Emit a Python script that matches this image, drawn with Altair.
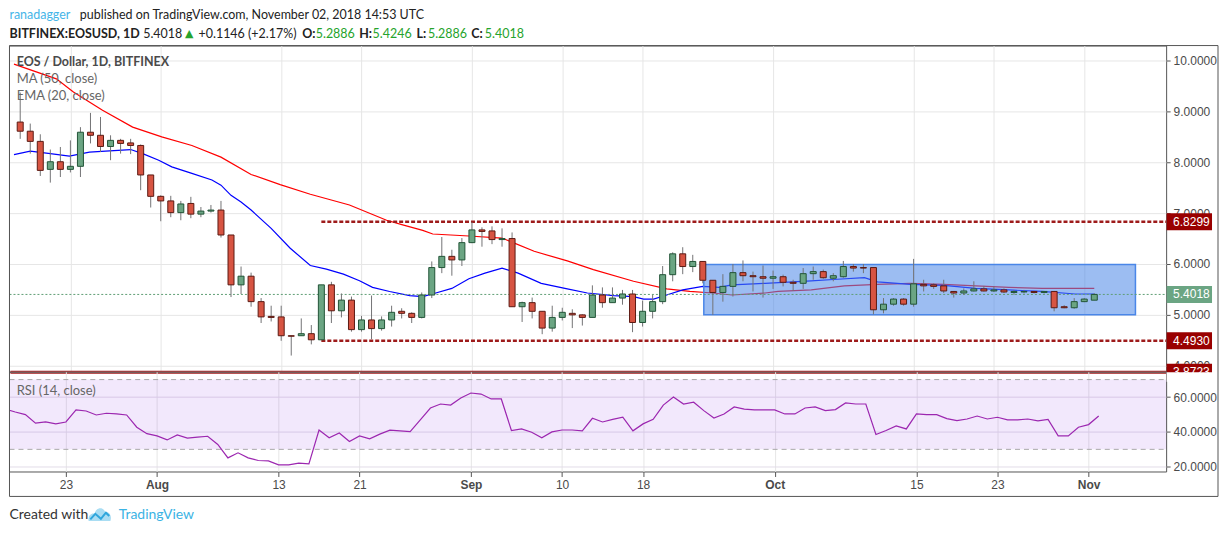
import altair as alt
import pandas as pd

# ---------------- data ----------------
start = "2018-07-18"
opens = [8.79, 8.61, 8.41, 7.86, 8.01, 7.86, 7.92, 8.59, 8.53, 8.31,
         8.43, 8.38, 8.33, 7.75, 7.33, 7.24, 7.01, 7.19, 6.98, 7.04,
         7.06, 6.57, 5.59, 5.76, 5.26, 4.97, 4.96, 4.59, 4.59, 4.63,
         4.51, 5.59, 5.08, 5.29, 4.71, 4.90, 4.73, 4.90, 5.07, 5.03,
         4.95, 5.39, 5.93, 6.15, 6.08, 6.42, 6.67, 6.65, 6.48, 6.50,
         5.16, 5.24, 5.07, 4.74, 4.95, 5.03, 5.00, 4.95, 5.39, 5.24,
         5.33, 5.41, 4.85, 5.07, 5.26, 5.79, 6.20, 5.95, 6.05, 5.68,
         5.44, 5.56, 5.83, 5.77, 5.75, 5.72, 5.75, 5.64, 5.62, 5.81,
         5.85, 5.72, 5.75, 5.95, 5.93, 5.93, 5.10, 5.21, 5.31, 5.21,
         5.60, 5.59, 5.57, 5.46, 5.43, 5.47, 5.51, 5.47, 5.49, 5.44,
         5.45, 5.46, 5.44, 5.46, 5.16, 5.14, 5.26, 5.2886]
highs = [9.37, 8.76, 8.55, 8.25, 8.30, 8.43, 8.69, 8.97, 8.89, 8.53,
         8.46, 8.46, 8.35, 7.75, 7.35, 7.34, 7.24, 7.32, 7.12, 7.16,
         7.24, 6.57, 5.95, 5.83, 5.33, 5.18, 5.18, 4.59, 4.93, 4.80,
         5.59, 5.65, 5.42, 5.36, 4.98, 5.38, 4.97, 5.18, 5.13, 5.05,
         5.44, 6.05, 6.53, 6.28, 6.51, 6.83, 6.72, 6.74, 6.70, 6.62,
         5.26, 5.34, 5.07, 5.18, 5.14, 5.11, 5.01, 5.58, 5.54, 5.54,
         5.49, 5.49, 5.28, 5.39, 5.96, 6.23, 6.33, 6.18, 6.05, 5.68,
         5.80, 6.00, 6.07, 5.85, 5.97, 5.87, 5.79, 5.69, 5.92, 5.95,
         5.89, 5.82, 6.06, 6.00, 6.00, 5.93, 5.33, 5.33, 5.33, 6.10,
         5.69, 5.62, 5.69, 5.47, 5.52, 5.66, 5.57, 5.56, 5.52, 5.49,
         5.49, 5.47, 5.47, 5.47, 5.19, 5.33, 5.33, 5.4246]
lows = [8.46, 8.17, 7.73, 7.60, 7.71, 7.80, 7.71, 8.37, 8.20, 8.04,
        8.17, 8.16, 7.45, 7.11, 6.84, 6.92, 6.86, 6.90, 6.92, 7.01,
        6.52, 5.35, 5.41, 5.16, 4.84, 4.87, 4.49, 4.20, 4.59, 4.42,
        4.51, 4.84, 4.95, 4.67, 4.67, 4.52, 4.69, 4.77, 4.93, 4.84,
        4.93, 5.33, 5.82, 5.77, 5.96, 6.41, 6.34, 6.39, 6.34, 5.16,
        4.86, 4.93, 4.62, 4.67, 4.89, 4.74, 4.79, 4.95, 5.14, 5.24,
        5.20, 4.66, 4.77, 4.93, 5.21, 5.66, 5.80, 5.84, 5.62, 5.00,
        5.26, 5.36, 5.66, 5.46, 5.34, 5.51, 5.56, 5.47, 5.51, 5.69,
        5.71, 5.66, 5.73, 5.85, 5.82, 5.01, 5.03, 5.18, 5.18, 5.16,
        5.46, 5.51, 5.43, 5.34, 5.39, 5.46, 5.46, 5.45, 5.43, 5.39,
        5.42, 5.42, 5.42, 5.07, 5.13, 5.12, 5.25, 5.2886]
closes = [8.61, 8.41, 7.84, 8.01, 7.86, 7.92, 8.59, 8.53, 8.31, 8.43,
          8.37, 8.33, 7.75, 7.33, 7.24, 7.01, 7.18, 6.98, 7.04, 7.06,
          6.57, 5.59, 5.76, 5.26, 4.96, 4.95, 4.59, 4.58, 4.63, 4.51,
          5.59, 5.08, 5.29, 4.71, 4.90, 4.73, 4.90, 5.05, 5.03, 4.95,
          5.39, 5.93, 6.15, 6.08, 6.42, 6.67, 6.64, 6.48, 6.50, 5.16,
          5.24, 5.07, 4.74, 4.95, 5.05, 5.00, 4.95, 5.39, 5.24, 5.33,
          5.41, 4.85, 5.07, 5.26, 5.79, 6.20, 5.95, 6.05, 5.68, 5.44,
          5.56, 5.83, 5.77, 5.75, 5.72, 5.75, 5.64, 5.62, 5.81, 5.85,
          5.73, 5.77, 5.95, 5.92, 5.92, 5.10, 5.21, 5.31, 5.21, 5.61,
          5.57, 5.56, 5.47, 5.43, 5.47, 5.51, 5.47, 5.49, 5.45, 5.46,
          5.46, 5.44, 5.46, 5.14, 5.14, 5.26, 5.31, 5.4018]

# RSI (14, close), first value is 2018-07-17 (just left of the view)
rsi_start = "2018-07-17"
rsi_vals = [53.2,
            51.4, 49.9, 45.0, 45.7, 44.6, 45.7, 52.6, 52.0, 49.7, 50.7,
            50.3, 49.7, 42.7, 39.0, 37.7, 35.4, 38.3, 36.4, 37.0, 37.5,
            32.8, 25.1, 28.0, 25.1, 23.6, 23.4, 21.1, 21.1, 22.1, 21.7,
            41.1, 36.6, 39.4, 34.5, 37.7, 36.0, 38.7, 41.0, 40.6, 40.2,
            46.9, 53.7, 56.0, 55.4, 59.4, 62.3, 61.7, 58.9, 58.9, 40.8,
            41.7, 39.8, 36.6, 40.0, 41.1, 41.1, 40.6, 47.8, 45.7, 47.2,
            48.4, 40.6, 44.6, 47.2, 55.4, 60.0, 56.0, 57.0, 52.2, 48.0,
            50.3, 54.3, 53.1, 52.6, 52.6, 52.6, 50.3, 50.3, 53.7, 54.3,
            52.2, 52.8, 56.6, 56.0, 56.0, 38.5, 40.8, 43.4, 41.7, 50.3,
            49.9, 49.9, 47.6, 46.5, 47.4, 49.1, 47.4, 48.4, 46.9, 46.9,
            47.4, 46.3, 47.2, 37.7, 37.7, 42.7, 44.2, 49.1]

# moving-average line vertices (days after start, price)
ma50_day = [-0.62, 3.6, 5.3, 8.2, 11.2, 14.1, 17.1, 20.0, 23.0, 25.9,
            28.9, 32.8, 36.5, 38.1, 40.1, 41.1, 44.7, 48.0, 51.2, 54.5,
            57.1, 61.1, 64.4, 66.7, 69.0, 70.9, 74.2, 75.5, 78.8, 82.1,
            85.4, 88.7, 92.0, 95.2, 98.5, 101.8, 107.0]
ma50_val = [9.93, 9.64, 9.38, 9.02, 8.69, 8.50, 8.33, 8.10, 7.76, 7.56,
            7.37, 7.16, 6.86, 6.77, 6.66, 6.59, 6.55, 6.51, 6.25, 6.06,
            5.89, 5.66, 5.51, 5.46, 5.43, 5.39, 5.43, 5.46, 5.49, 5.57,
            5.60, 5.62, 5.60, 5.57, 5.54, 5.52, 5.52]
ema20_day = [-0.62, 1.0, 3.0, 4.9, 6.9, 8.5, 11.0, 12.2, 13.8, 15.1,
             17.1, 19.1, 20.0, 21.0, 22.0, 23.0, 25.0, 26.9, 28.9, 30.5,
             32.2, 33.8, 35.1, 36.8, 38.8, 40.1, 41.4, 43.0, 44.7, 46.3,
             48.0, 49.6, 51.9, 54.5, 56.5, 59.1, 61.1, 62.1, 63.1, 64.4,
             66.0, 68.0, 69.6, 70.9, 74.2, 78.8, 81.4, 84.1, 85.4, 88.7,
             92.0, 95.2, 98.5, 101.8, 105.1, 107.0]
ema20_val = [8.15, 8.22, 8.17, 8.12, 8.20, 8.22, 8.25, 8.17, 8.04, 7.91,
             7.78, 7.65, 7.55, 7.35, 7.22, 7.06, 6.70, 6.31, 5.97, 5.90,
             5.80, 5.67, 5.54, 5.46, 5.38, 5.36, 5.43, 5.52, 5.71, 5.82,
             5.92, 5.82, 5.62, 5.51, 5.43, 5.38, 5.36, 5.31, 5.31, 5.39,
             5.49, 5.56, 5.54, 5.59, 5.62, 5.67, 5.70, 5.73, 5.65, 5.60,
             5.58, 5.52, 5.49, 5.46, 5.41, 5.41]

# drawings
range_box_days = [68.1, 111.1]
range_box_prices = [5.0, 5.99]
hlines_prices = [6.8299, 4.4930]
hlines_start_day = 30
base_price = 3.8723
last_price = 5.4018
price_labels = [6.8299, 5.4018, 4.4930, 3.8723]

price_ticks = [4, 5, 6, 7, 8, 9, 10]
rsi_ticks = [20, 40, 60]
rsi_band = [70, 30]
tick_dates = ["2018-07-23", "2018-08-01", "2018-08-13", "2018-08-21", "2018-09-01",
              "2018-09-10", "2018-09-18", "2018-10-01", "2018-10-15", "2018-10-23",
              "2018-11-01"]
tick_labels = ["23", "Aug", "13", "21", "Sep", "10", "18", "Oct", "15", "23", "Nov"]
month_labels = ["Aug", "Sep", "Oct", "Nov"]

# ---------------- frames ----------------
t0 = pd.Timestamp(start)
n = len(opens)
dates = pd.date_range(start, periods=n, freq="D")
cdf = pd.DataFrame({"day": [(d - t0).days for d in dates], "open": opens,
                    "high": highs, "low": lows, "close": closes})
rdates = pd.date_range(rsi_start, periods=len(rsi_vals), freq="D")
rdf = pd.DataFrame({"day": [(d - t0).days for d in rdates], "rsi": rsi_vals})
ma_df = pd.DataFrame({"day": ma50_day, "val": ma50_val})
ema_df = pd.DataFrame({"day": ema20_day, "val": ema20_val})
box_df = pd.DataFrame({"x0": [range_box_days[0]], "x1": [range_box_days[1]],
                       "y0": [range_box_prices[0]], "y1": [range_box_prices[1]]})
hl_df = pd.DataFrame({"lvl": hlines_prices, "start": [hlines_start_day] * len(hlines_prices)})
base_df = pd.DataFrame({"lvl": [base_price]})
last_df = pd.DataFrame({"lvl": [last_price]})
lbl_df = pd.DataFrame({"lvl": price_labels})
band_df = pd.DataFrame({"hi": [rsi_band[0]], "lo": [rsi_band[1]]})
bandline_df = pd.DataFrame({"lvl": rsi_band})
tick_days = [(pd.Timestamp(d) - t0).days for d in tick_dates]

# ---------------- styling ----------------
W, H1, H2 = 1160, 327, 100
GRID = "#E6E6E6"
AXC = "#555555"
LBL = "#4A4A4A"
UP, DOWN = "#6BA583", "#D75442"
UPB, DOWNB = "#225437", "#5B1A13"
FONT = "Liberation Sans"
TFONT = "Lato"

xs = alt.Scale(domain=[-0.62, 113.66], nice=False, zero=False)
ys = alt.Scale(domain=[3.882, 10.294], nice=False, zero=False)
yrs = alt.Scale(domain=[17.3, 74.5], nice=False, zero=False)

x_price_axis = alt.Axis(values=tick_days, labels=False, ticks=False, domain=False,
                        grid=True, gridColor=GRID, title=None)
y_price_axis = alt.Axis(orient="right", values=price_ticks, format=".4f", labelColor=LBL,
                        labelFontSize=12, labelFont=FONT, tickSize=4, tickColor=AXC,
                        labelPadding=3, domain=False, grid=True, gridColor=GRID, title=None)

label_expr = " : ".join(f"datum.value == {d} ? '{l}'" for d, l in zip(tick_days, tick_labels)) + " : ''"
month_days = [d for d, l in zip(tick_days, tick_labels) if l in month_labels]
bold_test = "indexof([" + ",".join(str(d) for d in month_days) + "], datum.value) >= 0"
x_rsi_axis = alt.Axis(values=tick_days, labelExpr=label_expr,
                      labelFontWeight={"condition": {"test": bold_test, "value": "bold"}, "value": "normal"},
                      labelColor=LBL, labelFontSize=12, labelFont=FONT, tickSize=5, tickColor=AXC,
                      labelPadding=3, domain=False, grid=True, gridColor=GRID, title=None,
                      labelFlush=False, labelOverlap=False)
y_rsi_axis = alt.Axis(orient="right", values=rsi_ticks, format=".4f", labelColor=LBL,
                      labelFontSize=12, labelFont=FONT, tickSize=4, tickColor=AXC,
                      labelPadding=3, domain=False, grid=True, gridColor="#E2DCE8", title=None)


def XP(f):
    return alt.X(f, type="quantitative", scale=xs, axis=x_price_axis)


def YP(f):
    return alt.Y(f, type="quantitative", scale=ys, axis=y_price_axis)


def XR(f):
    return alt.X(f, type="quantitative", scale=xs, axis=x_rsi_axis)


def YR(f):
    return alt.Y(f, type="quantitative", scale=yrs, axis=y_rsi_axis)


one = pd.DataFrame({"k": [0]})


def txt(s, x, y, size=13, color="#222222", weight="normal", font=TFONT):
    return alt.Chart(one).mark_text(text=s, align="left", baseline="middle", fontSize=size,
                                    font=font, color=color, fontWeight=weight).encode(
        x=alt.value(x), y=alt.value(y))


# ---------------- price panel ----------------
ma_line = alt.Chart(ma_df).mark_line(color="#FF0000", strokeWidth=1.2, clip=True).encode(
    x=XP("day"), y=YP("val"))
ema_line = alt.Chart(ema_df).mark_line(color="#0000FF", strokeWidth=1.2, clip=True).encode(
    x=XP("day"), y=YP("val"))
box = alt.Chart(box_df).mark_rect(fill="#4A86E8", fillOpacity=0.55, stroke="#4A86E8",
                                  strokeWidth=1.5).encode(
    x=XP("x0"), x2="x1", y=YP("y0"), y2="y1")
last_line = alt.Chart(last_df).mark_rule(color="#5E9E74", strokeDash=[2, 2], strokeWidth=1).encode(
    x=alt.value(0.5), x2=alt.value(W), y=YP("lvl"))
hlines = alt.Chart(hl_df).mark_rule(color="#9E1B1B", strokeDash=[4, 2], strokeWidth=2.5).encode(
    x=XP("start"), x2=alt.value(W), y=YP("lvl"))
base_line = alt.Chart(base_df).mark_rule(color="#A31A1A", strokeWidth=3).encode(
    x=alt.value(1.5), x2=alt.value(W), y=YP("lvl"))
base_line2 = alt.Chart(base_df).mark_rule(color="#E39A9A", strokeWidth=1).encode(
    x=alt.value(1.5), x2=alt.value(W), y=YP("lvl"))
wicks = alt.Chart(cdf).mark_rule(color="#737375", strokeWidth=1).encode(
    x=XP("day"), y=YP("low"), y2="high")
bodies = alt.Chart(cdf).mark_bar(size=6, strokeWidth=1).encode(
    x=XP("day"), y=YP("open"), y2="close",
    color=alt.condition("datum.close >= datum.open", alt.value(UP), alt.value(DOWN)),
    stroke=alt.condition("datum.close >= datum.open", alt.value(UPB), alt.value(DOWNB)))
lbl_rect = alt.Chart(lbl_df).mark_rect(yOffset=-8.5, y2Offset=8.5).encode(
    x=alt.value(W + 0.5), x2=alt.value(W + 46), y=YP("lvl"), y2="lvl",
    color=alt.condition(f"datum.lvl == {last_price}", alt.value("#6BA583"), alt.value("#990000")))
lbl_text = alt.Chart(lbl_df).mark_text(align="left", baseline="middle", color="white",
                                       fontSize=12, font=FONT).encode(
    x=alt.value(W + 7), y=YP("lvl"), text=alt.Text("lvl:Q", format=".4f"))

GREEN = "#26A32B"
header = [
    txt("ranadagger", 0.5, -30.5, 12.5, "#45B5E8"),
    txt("published on TradingView.com, November 02, 2018 14:53 UTC", 71, -30.5, 12.5, "#222222"),
    txt("BITFINEX:EOSUSD, 1D", 0.5, -12, 12.5, "#222222", "bold"),
    txt("5.4018", 134.5, -12, 12.5, "#222222"),
    txt("▲", 176.5, -12, 11, GREEN, font="DejaVu Sans"),
    txt("+0.1146 (+2.17%)", 190, -12, 12.5, "#222222"),
    txt("O:", 294, -12, 12.5, "#222222", "bold"),
    txt("5.2886", 307.5, -12, 12.5, GREEN),
    txt("H:", 351, -12, 12.5, "#222222", "bold"),
    txt("5.4246", 364.5, -12, 12.5, GREEN),
    txt("L:", 408.5, -12, 12.5, "#222222", "bold"),
    txt("5.2886", 420, -12, 12.5, GREEN),
    txt("C:", 463.5, -12, 12.5, "#222222", "bold"),
    txt("5.4018", 477, -12, 12.5, GREEN),
]
overlay = [
    txt("EOS / Dollar, 1D, BITFINEX", 7.7, 16.7, 12.5, "#4A4A4A", "bold"),
    txt("MA (50, close)", 7.7, 33.7, 13, "#666666"),
    txt("EMA (20, close)", 7.7, 51, 13, "#666666"),
]

price = alt.layer(ma_line, ema_line, box, last_line, hlines, base_line, base_line2,
                  wicks, bodies, lbl_rect, lbl_text, *overlay, *header).properties(
    width=W, height=H1)

# ---------------- RSI panel ----------------
band = alt.Chart(band_df).mark_rect(color="#8A2BE2", opacity=0.11).encode(
    x=alt.value(0), x2=alt.value(W), y=YR("hi"), y2="lo")
band_lines = alt.Chart(bandline_df).mark_rule(color="#A9A9A9", strokeDash=[5, 4], strokeWidth=1).encode(
    x=alt.value(0.5), x2=alt.value(W), y=YR("lvl"))
rsi_line = alt.Chart(rdf).mark_line(color="#9C27B0", strokeWidth=1.2, clip=True).encode(
    x=XR("day"), y=YR("rsi"))
cover = alt.Chart(one).mark_rect(color="white").encode(
    x=alt.value(W + 0.5), x2=alt.value(W + 47), y=alt.value(0.6), y2=alt.value(10))
outer = alt.Chart(one).mark_rect(fillOpacity=0, stroke="#555555", strokeWidth=1).encode(
    x=alt.value(0.5), x2=alt.value(1212), y=alt.value(-H1), y2=alt.value(125))
cloud_path = ("M-1,0.6 C-1.1,0.1 -0.7,-0.2 -0.45,-0.05 C-0.4,-0.6 0.3,-0.75 0.5,-0.2 "
              "C0.9,-0.25 1.1,0.2 0.95,0.6 Z")
zig_path = "M-0.85,0.45 L-0.4,-0.05 L0.1,0.4 L0.55,-0.15 L0.85,0.15"
logo_cloud = alt.Chart(one).mark_point(shape=cloud_path, size=500, filled=True,
                                       color="#A9DDF3", opacity=1).encode(
    x=alt.value(91), y=alt.value(143))
logo_zig = alt.Chart(one).mark_point(shape=zig_path, size=500, filled=False,
                                     color="#2FA6DC", strokeWidth=2, opacity=1).encode(
    x=alt.value(91), y=alt.value(143))

rsi = alt.layer(band, band_lines, rsi_line, cover, outer,
                txt("RSI (14, close)", 7.7, 19, 13, "#666666"),
                txt("Created with", 0.5, 144, 14, "#333333"),
                logo_cloud, logo_zig,
                txt("TradingView", 110, 144, 14, "#3BB3E4")).properties(width=W, height=H2)

chart = alt.vconcat(price, rsi, spacing=0, bounds="flush",
                    padding={"left": 0, "right": 0, "top": 0, "bottom": 0},
                    background="white").configure_view(stroke="#555555", strokeWidth=1)

chart.save("out.html", embed_options={"renderer": "svg", "actions": False})
